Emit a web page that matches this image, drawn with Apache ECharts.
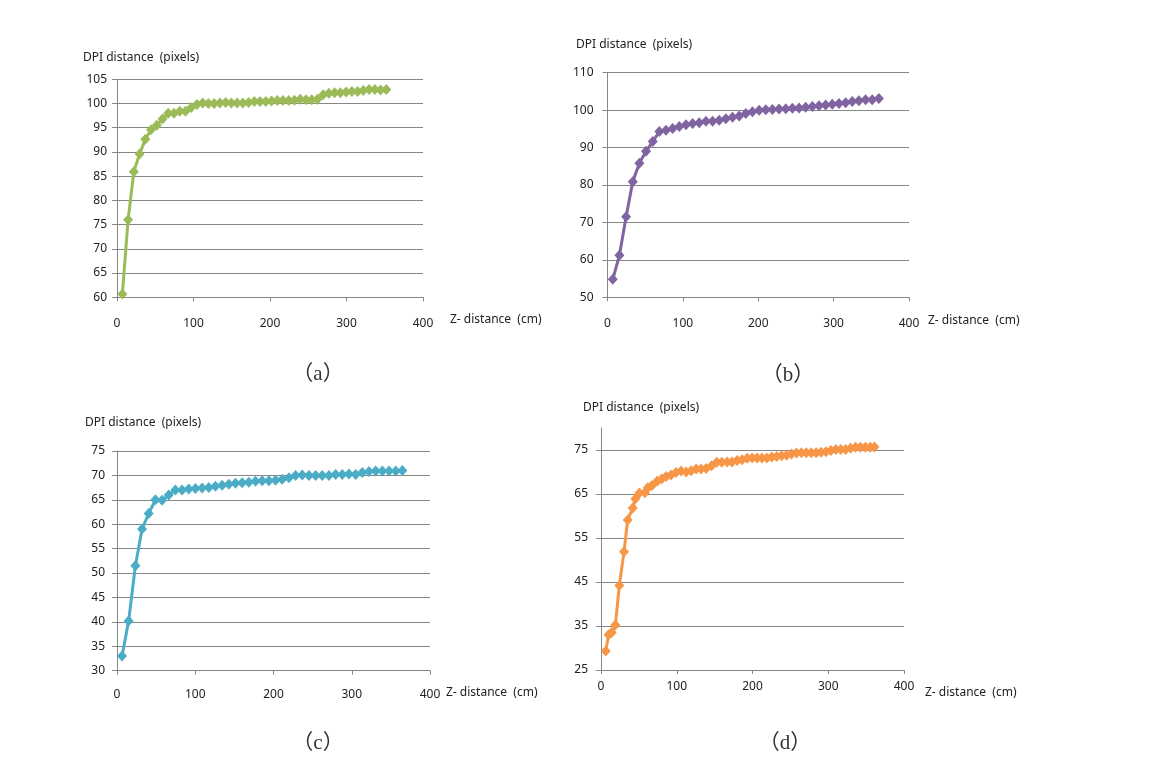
<!DOCTYPE html>
<html><head><meta charset="utf-8">
<script src="https://cdn.jsdelivr.net/npm/echarts@6/dist/echarts.min.js"></script>
<style>html,body{margin:0;padding:0;background:#fff}#c{width:1152px;height:760px}</style>
</head><body><div id="c"></div>
<script>
// (a) green
const xA = [7,14.5,22,29.5,37,44.5,52,59.5,67,74.5,82,89.5,97,104.5,112,119.5,127,134.5,142,149.5,157,164.5,172,179.5,187,194.5,202,209.5,217,224.5,232,239.5,247,254.5,262,269.5,277,284.5,292,299.5,307,314.5,322,329.5,337,344.5,352];
const yA = [60.7,76,85.9,89.6,92.6,94.6,95.5,96.8,98,98,98.4,98.4,99.2,99.8,100.1,100,100,100.1,100.2,100.1,100.1,100.1,100.2,100.4,100.4,100.4,100.5,100.6,100.6,100.6,100.7,100.9,100.8,100.8,100.9,101.8,102.1,102.2,102.2,102.4,102.5,102.5,102.7,102.9,102.9,102.8,102.9];
// (b) purple
const xB = [7,15.8,24.7,33.5,42.3,51.1,60,68.8,77.6,86.4,95.3,104.1,112.9,121.7,130.6,139.4,148.2,157,165.9,174.7,183.5,192.3,201.2,210,218.8,227.6,236.5,245.3,254.1,262.9,271.8,280.6,289.4,298.2,307.1,315.9,324.7,333.5,342.4,351.2,360];
const yB = [54.8,61.2,71.5,80.9,85.8,89,91.6,94.3,94.6,95.1,95.6,96.1,96.4,96.6,97,97,97.3,97.7,98.1,98.4,99.1,99.6,100,100.1,100.2,100.3,100.4,100.5,100.6,100.8,101,101.2,101.4,101.6,101.8,102,102.3,102.5,102.8,102.8,103.1];
// (c) teal
const xC = [6.4,14.9,23.5,32,40.5,49.1,57.6,66.1,74.6,83.2,91.7,100.2,108.8,117.3,125.8,134.4,142.9,151.4,160,168.5,177,185.5,194.1,202.6,211.1,219.7,228.2,236.7,245.3,253.8,262.3,270.8,279.4,287.9,296.4,305,313.5,322,330.6,339.1,347.6,356.2,364.7];
const yC = [33,40.2,51.5,59,62.2,65,64.9,66,67,67,67.2,67.3,67.4,67.5,67.8,68,68.2,68.4,68.5,68.6,68.8,68.9,68.9,69,69.2,69.5,70,70.1,70,70,70,70,70.2,70.2,70.3,70.2,70.6,70.8,70.9,70.9,70.9,70.9,71];
// (d) orange
const xD = [6.2,10.1,14.1,18.9,24.2,30.4,35.2,41.9,45.4,50.7,58,61.7,67,74,80,85.9,92.5,99,105.7,112.3,119,125.6,132,138.8,146,152.8,159.5,166.5,173,179.7,186.3,193,199.5,206,212.5,219,225.5,232,238.5,245,251.5,258,264.5,271,277.5,284,290.5,297,303.5,310,316.5,323,329.5,336,342.5,349,355.5,361];
const yD = [29.3,33,33.5,35.2,44.2,51.9,59.1,61.8,63.9,65.2,65.3,66.4,66.9,67.9,68.4,69,69.3,69.9,70.2,70,70.3,70.7,70.7,70.8,71.4,72.2,72.2,72.3,72.3,72.6,72.8,73.1,73.2,73.2,73.2,73.2,73.4,73.5,73.7,73.8,74.1,74.3,74.4,74.4,74.4,74.4,74.5,74.6,74.9,75.1,75.1,75.1,75.4,75.6,75.6,75.6,75.6,75.7];

const captions = ['（a）','（b）','（c）','（d）'];
const yName = 'DPI distance  (pixels)';
const xName = 'Z- distance  (cm)';
const colors = ['#9BBB59','#8064A2','#4BACC6','#F79646'];
const yMin = [60,50,30,25], yMax = [105,110,75,80], yInt = [5,10,5,10];

const FONT = 'Noto Sans';
const gray = '#868686';
const grids = [
  {left:117, top:79.3, width:306, height:218},
  {left:607.5, top:72.7, width:301.5, height:224.6},
  {left:117, top:451, width:313, height:219.7},
  {left:601, top:428, width:303, height:242}
];
const xLabMargin = [20,20,18,11];
const yLabMargin = [10,14,12,13];

const zip = (xs, ys) => xs.map((x, i) => [x, ys[i]]);
const sets = [[xA,yA],[xB,yB],[xC,yC],[xD,yD]];
const capFont = '21px "Liberation Serif", "Noto Sans CJK KR"';
const nameFont = '12px "Noto Sans"';

const option = {
  animation:false,
  backgroundColor:'#fff',
  grid: grids,
  xAxis: grids.map((g,i)=>({
    type:'value', gridIndex:i, min:0, max:400, interval:100,
    axisLine:{show:true, lineStyle:{color:gray, width:1}},
    axisTick:{show:true, length:4, lineStyle:{color:gray}},
    splitLine:{show:false},
    axisLabel:{color:'#222', fontFamily:FONT, fontSize:12, margin:xLabMargin[i]}
  })),
  yAxis: grids.map((g,i)=>({
    type:'value', gridIndex:i, min:yMin[i], max:yMax[i], interval:yInt[i],
    axisLine:{show:true, lineStyle:{color:gray, width:1}},
    axisTick:{show:true, length:5, lineStyle:{color:gray}},
    splitLine:{show:true, showMaxLine: i!==3, lineStyle:{color:gray, width:1}},
    axisLabel:{color:'#222', fontFamily:FONT, fontSize:12, margin:yLabMargin[i], showMaxLabel: i!==3}
  })),
  series: sets.map((s,i)=>({
    type:'line', xAxisIndex:i, yAxisIndex:i,
    data: zip(s[0], s[1]),
    symbol:'diamond', symbolSize:[10,11],
    itemStyle:{color:colors[i]},
    lineStyle:{color:colors[i], width:3},
    z:3
  })),
  graphic: [
    {type:'text', left:83, top:52, style:{text:yName, font:nameFont, fill:'#222'}},
    {type:'text', left:576, top:39, style:{text:yName, font:nameFont, fill:'#222'}},
    {type:'text', left:85, top:417, style:{text:yName, font:nameFont, fill:'#222'}},
    {type:'text', left:583, top:402, style:{text:yName, font:nameFont, fill:'#222'}},
    {type:'text', left:450, top:314, style:{text:xName, font:nameFont, fill:'#222'}},
    {type:'text', left:928, top:315, style:{text:xName, font:nameFont, fill:'#222'}},
    {type:'text', left:446, top:687, style:{text:xName, font:nameFont, fill:'#222'}},
    {type:'text', left:925, top:687, style:{text:xName, font:nameFont, fill:'#222'}},
    {type:'text', x:318, y:374, style:{text:captions[0], font:capFont, fill:'#333', align:'center', verticalAlign:'middle'}},
    {type:'text', x:788, y:375, style:{text:captions[1], font:capFont, fill:'#333', align:'center', verticalAlign:'middle'}},
    {type:'text', x:318, y:743, style:{text:captions[2], font:capFont, fill:'#333', align:'center', verticalAlign:'middle'}},
    {type:'text', x:785, y:743, style:{text:captions[3], font:capFont, fill:'#333', align:'center', verticalAlign:'middle'}}
  ]
};
echarts.init(document.getElementById('c'), null, {renderer:'canvas'}).setOption(option);
</script></body></html>
